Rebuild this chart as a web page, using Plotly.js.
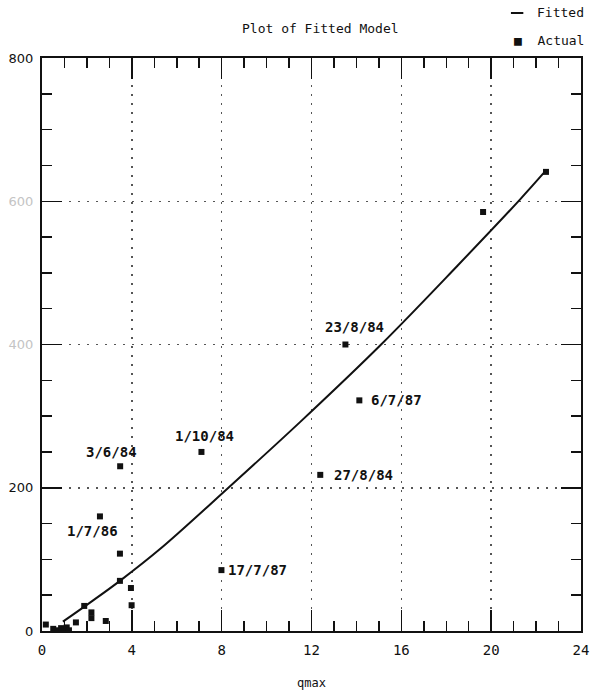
<!DOCTYPE html>
<html>
<head>
<meta charset="utf-8">
<script src="https://cdn.plot.ly/plotly-3.0.1.min.js"></script>
<style>html,body{margin:0;padding:0;background:#fff;}#chart{width:590px;height:693px;}</style>
</head>
<body>
<div id="chart"></div>
<script>
// Fitted model curve
const fittedQ = [0.93, 2.2, 3.47, 5.24, 8.3, 11.5, 15.1, 18.5, 21.27, 22.44];
const fittedY = [13, 41, 70, 114, 200, 292, 400, 510, 602, 643];

// Actual observations
const actualQ = [3.48, 2.58, 7.1, 7.99, 13.51, 14.13, 12.39, 22.44, 19.64, 3.47, 3.47, 3.96, 3.99, 1.88, 2.2, 2.2, 1.51, 2.84, 0.17, 0.5, 0.7, 0.85, 1.0, 1.1, 1.2];
const actualY = [230, 160, 250, 85, 400, 322, 218, 641, 585, 108, 70, 60, 36, 35, 26, 18, 12, 14, 9, 3, 1, 4, 2, 5, 1];
const actualLabels = ['3/6/84', '1/7/86', '1/10/84', '17/7/87', '23/8/84', '6/7/87', '27/8/84'];

const xTickVals = [0, 4, 8, 12, 16, 20, 24];
const yTickVals = [0, 200, 400, 600, 800];
const yTickText = ['0', '200', '400', '600', '800'];

// label placement (pixel offsets from each labelled point)
const labelPlacement = [
  {xanchor: 'center', xshift: -9, yshift: 14},
  {xanchor: 'center', xshift: -7, yshift: -15},
  {xanchor: 'center', xshift: 3, yshift: 16},
  {xanchor: 'left', xshift: 5, yshift: 0},
  {xanchor: 'center', xshift: 9, yshift: 18},
  {xanchor: 'left', xshift: 10, yshift: 0},
  {xanchor: 'left', xshift: 12, yshift: 0}
];
const fadedTicks = ['400', '600'];

const mono = 'DejaVu Sans Mono, Liberation Mono, monospace';

const traces = [
  {x: fittedQ, y: fittedY, type: 'scatter', mode: 'lines', name: 'Fitted',
   line: {color: '#111', width: 2, shape: 'spline', smoothing: 1}, hoverinfo: 'skip'},
  {x: actualQ, y: actualY, type: 'scatter', mode: 'markers', name: 'Actual',
   marker: {symbol: 'square', size: 6, color: '#111'}}
];

const annotations = actualLabels.map((t, i) => Object.assign({
  x: actualQ[i], y: actualY[i], xref: 'x', yref: 'y', text: '<b>' + t + '</b>', showarrow: false,
  yanchor: 'middle', font: {family: mono, size: 14, color: '#111'}
}, labelPlacement[i]));

annotations.push(
  {xref: 'paper', yref: 'paper', x: 0.516, y: 1, yshift: 30, xanchor: 'center', yanchor: 'middle',
   text: 'Plot of Fitted Model', showarrow: false, font: {family: mono, size: 13, color: '#111'}},
  {xref: 'paper', yref: 'paper', x: 1, y: 1, xshift: 5, yshift: 46, xanchor: 'right', yanchor: 'middle',
   text: 'Fitted', showarrow: false, font: {family: mono, size: 13, color: '#111'}},
  {xref: 'paper', yref: 'paper', x: 1, y: 1, xshift: 5, yshift: 18, xanchor: 'right', yanchor: 'middle',
   text: '■  Actual', showarrow: false, font: {family: mono, size: 13, color: '#111'}}
);

const layout = {
  width: 590, height: 693,
  margin: {l: 42, r: 9, t: 58, b: 62},
  paper_bgcolor: '#fff', plot_bgcolor: '#fff',
  showlegend: false,
  font: {family: mono, color: '#111'},
  shapes: [
    {type: 'line', xref: 'paper', yref: 'paper', x0: 0.87, x1: 0.893, y0: 1.0785, y1: 1.0785,
     line: {color: '#111', width: 2}}
  ],
  xaxis: {
    range: [0, 24], tickvals: xTickVals, ticks: 'inside', ticklen: 21, tickwidth: 1.5, tickcolor: '#111',
    showline: true, linecolor: '#111', linewidth: 2, mirror: 'ticks',
    showgrid: true, gridcolor: '#555', gridwidth: 1.5, griddash: '1.5px,7.5px',
    zeroline: false, ticklabelstandoff: 5,
    minor: {dtick: 1, ticks: 'inside', ticklen: 10, tickwidth: 1.5, tickcolor: '#111', showgrid: false},
    tickfont: {family: mono, size: 14, color: '#111'},
    title: {text: 'qmax', font: {family: mono, size: 12, color: '#111'}, standoff: 22}
  },
  yaxis: {
    range: [0, 800], tickvals: yTickVals,
    ticktext: yTickText.map(t => fadedTicks.includes(t) ? '<span style="color:#c4c4c4">' + t + '</span>' : t),
    ticks: 'inside', ticklen: 20, tickwidth: 1.5, tickcolor: '#111',
    showline: true, linecolor: '#111', linewidth: 2, mirror: 'ticks',
    showgrid: true, gridcolor: '#555', gridwidth: 1.5, griddash: '1.5px,7.5px',
    zeroline: false, ticklabelstandoff: 4,
    minor: {dtick: 50, ticks: 'inside', ticklen: 10, tickwidth: 1.5, tickcolor: '#111', showgrid: false},
    tickfont: {family: 'DejaVu Sans, sans-serif', size: 13, color: '#111'}
  },
  annotations: annotations
};

Plotly.newPlot('chart', traces, layout, {staticPlot: true, displayModeBar: false});
</script>
</body>
</html>
